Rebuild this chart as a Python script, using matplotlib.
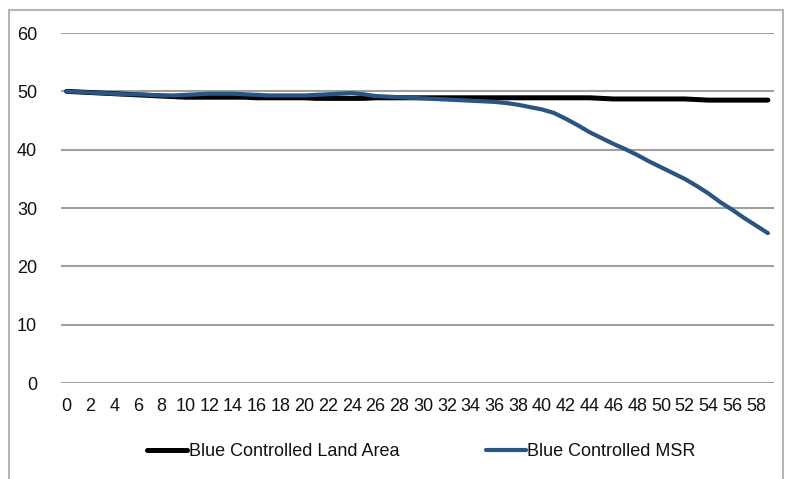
import matplotlib.pyplot as plt
from matplotlib.patches import Rectangle

plt.rcParams['font.family'] = ['Liberation Sans', 'DejaVu Sans']

# time steps 0..59
steps = list(range(60))

land_area = [50.0, 49.9, 49.8, 49.7, 49.6, 49.5, 49.4, 49.3, 49.2, 49.1,
             49.0, 49.0, 49.0, 49.0, 49.0, 49.0, 48.9, 48.9, 48.9, 48.9,
             48.9, 48.8, 48.8, 48.8, 48.8, 48.8, 48.9, 48.9, 48.9, 48.9,
             48.9, 48.9, 48.9, 48.9, 48.9, 48.9, 48.9, 48.9, 48.9, 48.9,
             48.9, 48.9, 48.9, 48.9, 48.9, 48.8, 48.7, 48.7, 48.7, 48.7,
             48.7, 48.7, 48.7, 48.6, 48.5, 48.5, 48.5, 48.5, 48.5, 48.5]

msr = [50.0, 49.9, 49.8, 49.7, 49.6, 49.5, 49.5, 49.4, 49.3, 49.3,
       49.4, 49.5, 49.6, 49.6, 49.6, 49.5, 49.4, 49.3, 49.3, 49.3,
       49.3, 49.4, 49.5, 49.6, 49.7, 49.5, 49.2, 49.1, 49.0, 48.9,
       48.8, 48.7, 48.6, 48.5, 48.4, 48.3, 48.2, 48.0, 47.7, 47.3,
       46.9, 46.3, 45.3, 44.2, 43.0, 42.0, 41.0, 40.1, 39.1, 38.0,
       37.0, 36.0, 35.0, 33.8, 32.5, 31.0, 29.7, 28.3, 27.0, 25.7]

xtick_labels = [str(i) for i in range(0, 60, 2)]

fig = plt.figure(figsize=(7.88, 4.79), dpi=100)
ax = fig.add_axes([0.077, 0.2004, 0.905, 0.7306])

ax.plot(steps, land_area, color='black', linewidth=3.6,
        solid_capstyle='round', label='Blue Controlled Land Area')
ax.plot(steps, msr, color='#285583', linewidth=3.0,
        solid_capstyle='round', label='Blue Controlled MSR')

ax.set_xlim(-0.5, 59.5)
ax.set_ylim(0, 60)
ax.set_yticks(range(0, 61, 10))
ax.set_xticks(range(0, 60, 2))
ax.set_xticklabels(xtick_labels)
ax.grid(axis='y', color='#a0a0a0', linewidth=1.5)
ax.set_axisbelow(True)
for s in ax.spines.values():
    s.set_visible(False)
ax.tick_params(length=0, labelsize=13, colors='#111111')
ax.tick_params(axis='y', pad=17)
ax.tick_params(axis='x', pad=11)

ax.legend(loc='upper center', bbox_to_anchor=(0.506, -0.125), ncol=2,
          frameon=False, fontsize=13, handlelength=2.2, handletextpad=0.1,
          columnspacing=4.8, labelcolor='#111111')

# outer chart border
fig.add_artist(Rectangle((9 / 788, -0.1), 774 / 788, 1.1 - 10 / 479,
                         transform=fig.transFigure, fill=False,
                         edgecolor='#b5b5b5', linewidth=1.5))

plt.savefig('out.png', dpi=100)
